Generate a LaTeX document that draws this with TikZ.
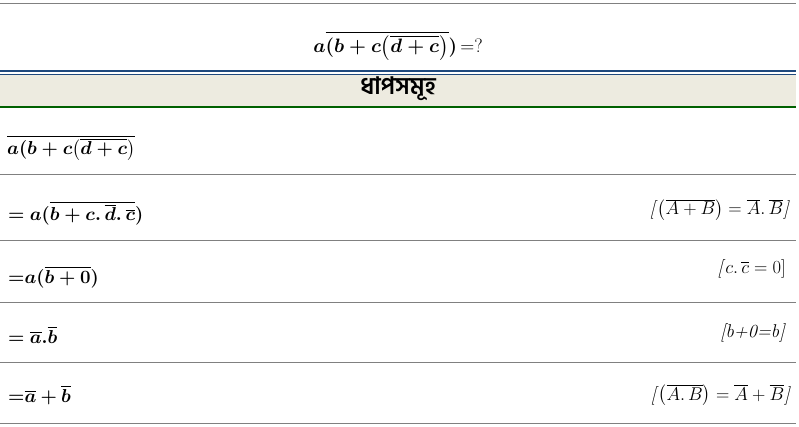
\RequirePackage{fix-cm}
\documentclass[tikz,border=0pt]{standalone}
\usepackage{fontspec}
\usepackage{amsmath}
\usepackage{bm}
\newfontfamily\bnfont[Script=Bengali]{Hind Siliguri}
\definecolor{rulegray}{HTML}{808080}
\definecolor{hdrblue}{HTML}{1F497D}
\definecolor{hdrfill}{HTML}{EDEBE0}
\definecolor{hdrgreen}{HTML}{006100}

\begin{document}
\begin{tikzpicture}[x=1pt,y=-1pt,
  rowline/.style={draw=rulegray,line width=1pt},
  steptext/.style={anchor=base west,inner sep=0pt,font=\fontsize{18.7}{22}\selectfont},
  reason/.style={anchor=base east,inner sep=0pt,font=\fontsize{18.5}{21}\selectfont}]

\useasboundingbox (0,0) rectangle (799,427);

% title
\draw[rowline](0,4) -- (796,4);
\node (title) at (398,53)[anchor=base,inner sep=0pt,font=\fontsize{19.4}{22}\selectfont]
  {$\boldsymbol{a\overline{(b+c\bigl(\overline{d+c}\bigr)})}$\,$=$?};

% header band
\fill[hdrfill](0,75) rectangle (796,107);
\draw[hdrblue,line width=2pt](0,71.5) -- (796,71.5);
\draw[hdrblue,line width=1pt](0,74.5) -- (796,74.5);
\draw[hdrgreen,line width=1.2pt](0,107) -- (796,107);
\node (head) at (398,89)[inner sep=0pt,font=\bnfont\bfseries\fontsize{24}{27}\selectfont]{ধাপসমূহ};

% steps
\node (s1) at (7,155)[steptext]{$\boldsymbol{\overline{a(b+c\bigl(\overline{d+c}\bigr)}}$};
\draw[rowline](0,175) -- (796,175);

\node (s2) at (8,221)[steptext]{$\boldsymbol{{=}}\;\boldsymbol{a(\overline{b+c.\,\overline{d}.\,\overline{c}})}$};
\node (r2) at (790,215)[reason]{\textit{[}$\bigl(\overline{A+B}\bigr)=\overline{A}.\,\overline{B}$\textit{]}};
\draw[rowline](0,241) -- (796,241);

\node (s3) at (8,283)[steptext]{$\boldsymbol{{=}}\boldsymbol{a(\overline{b+0})}$};
\node (r3) at (786,273)[reason]{\textit{[}$c.\,\overline{c}=0$]};
\draw[rowline](0,302) -- (796,302);

\node (s4) at (8,343)[steptext]{$\boldsymbol{{=}}\;\boldsymbol{\overline{a}.\overline{b}}$};
\node (r4) at (786,337)[reason]{\textit{[b+0=b]}};
\draw[rowline](0,362) -- (796,362);

\node (s5) at (8,402)[steptext]{$\boldsymbol{{=}}\boldsymbol{\overline{a}+\overline{b}}$};
\node (r5) at (791,400)[reason]{\textit{[}$\bigl(\overline{A.\,B}\bigr)=\overline{A}+\overline{B}$\textit{]}};
\draw[rowline](0,423) -- (796,423);

\end{tikzpicture}
\end{document}
